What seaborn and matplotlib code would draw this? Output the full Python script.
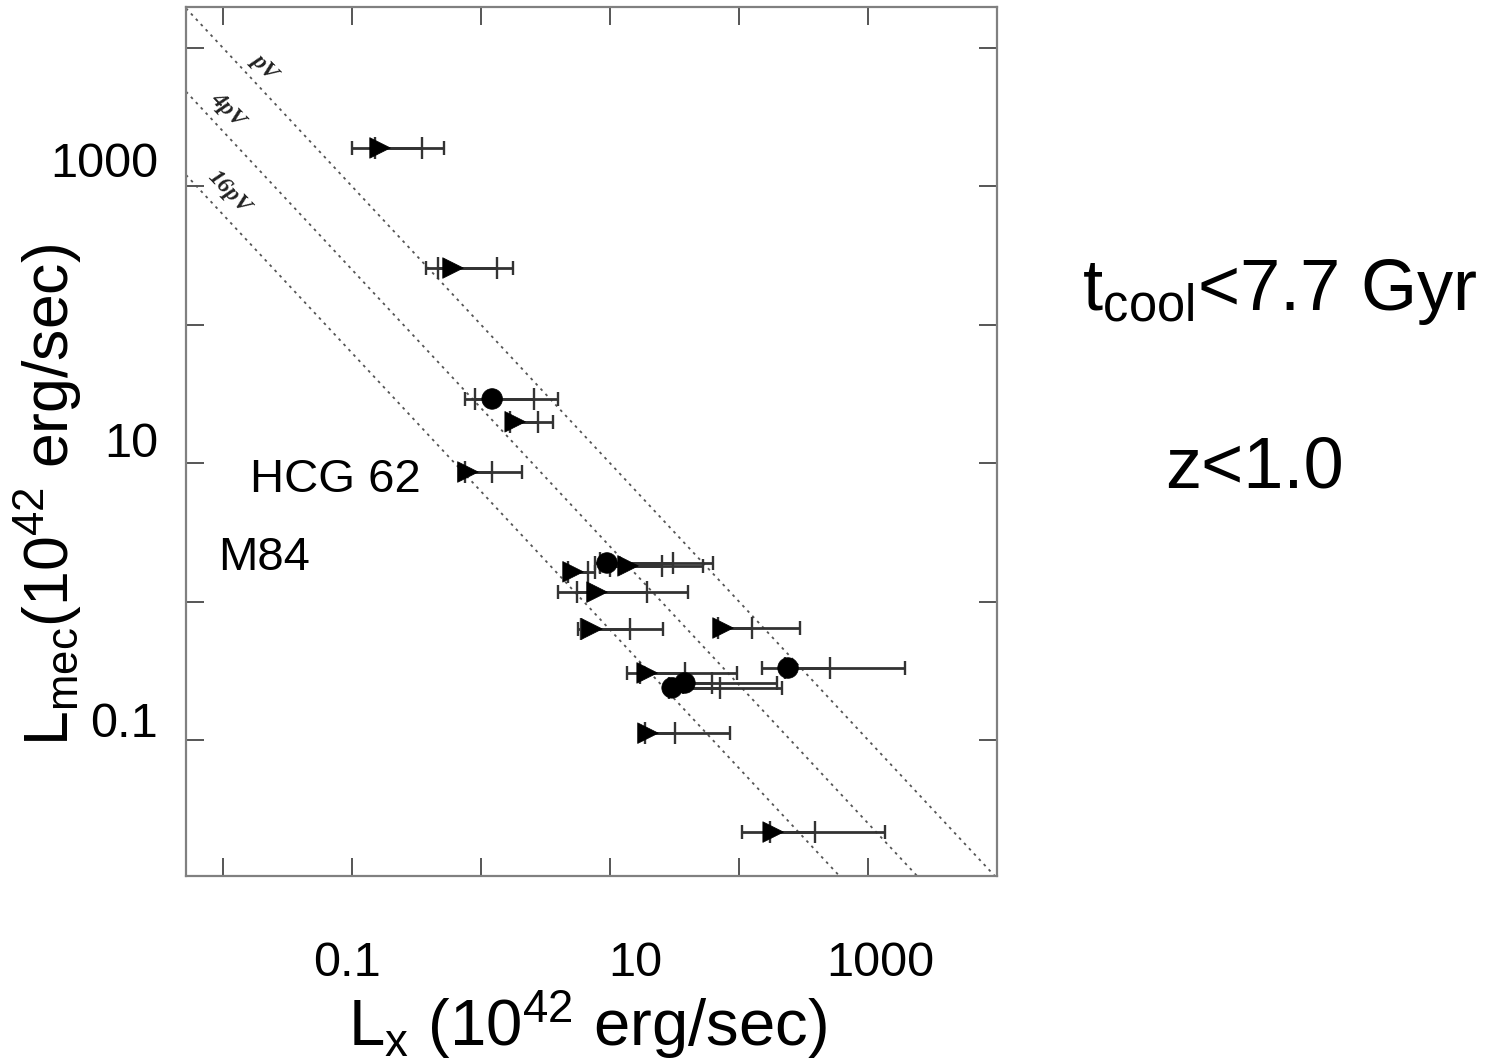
import numpy as np
import pandas as pd
import matplotlib
matplotlib.use("Agg")
import matplotlib.pyplot as plt
from matplotlib.ticker import NullLocator, NullFormatter
import seaborn as sns

# ---------------- data ----------------
kind = ['tri', 'tri', 'circ', 'tri', 'tri', 'tri', 'circ', 'tri', 'tri',
        'tri', 'tri', 'circ', 'tri', 'circ', 'circ', 'tri', 'tri']
lx = [0.165, 0.607, 1.22, 1.84, 0.792, 5.17, 9.48, 13.8, 7.93,
      7.25, 75.2, 240, 19.4, 30.3, 38.1, 19.7, 184]
lmec = [1895, 257, 29.1, 19.9, 8.63, 1.64, 1.90, 1.81, 1.17,
        0.634, 0.644, 0.331, 0.305, 0.238, 0.258, 0.112, 0.0216]
outer_lo = [0.100, 0.375, 0.751, 1.59, 0.713, 4.48, 7.65, 8.36, 3.95,
            5.65, 65.2, 151, 13.5, 27.7, 36.7, 17.7, 105]
outer_hi = [0.516, 1.77, 3.95, 3.61, 2.08, 7.65, 62.9, 52.6, 40.2,
            25.8, 297, 1936, 96.4, 215, 197, 85.1, 1355]
inner_lo = [0.15, 0.464, 0.897, 1.67, 0.75, 4.7, 8.36, 10.0, 5.55,
            6.0, 68.6, 228, 17.0, 28.6, 37.0, 18.6, 174]
inner_hi = [0.349, 1.33, 2.58, 2.77, 1.22, 6.7, 30.8, 25.3, 19.4,
            14.3, 126, 507, 38.1, 71.2, 61.8, 31.9, 388]

line_labels = ['pV', '4pV', '16pV']
line_norm = [100.0, 25.0, 6.25]          # Lmec * Lx = const for each line
line_label_x = [0.0212, 0.01093, 0.01114]
line_label_y = [7300, 3566, 912]

x_ticks = [1e-2, 1e-1, 1, 10, 100, 1000]
y_ticks = [0.1, 1, 10, 100, 1000, 1e4]
x_ticklabels = ['0.1', '10', '1000']
y_ticklabels = ['1000', '10', '0.1']

# ---------------- style ----------------
sns.set_theme(style='white')
plt.rcParams['font.family'] = ['Liberation Sans', 'DejaVu Sans']
plt.rcParams['text.color'] = 'black'
plt.rcParams['mathtext.fontset'] = 'custom'
plt.rcParams['mathtext.rm'] = 'Liberation Sans'
plt.rcParams['mathtext.it'] = 'Liberation Sans:italic'
plt.rcParams['mathtext.bf'] = 'Liberation Sans:bold'

W, H = 1505, 1062
fig = plt.figure(figsize=(W / 100, H / 100), dpi=100)
fig.patch.set_facecolor('white')
L, R, T, B = 186, 997, 7, 876
ax = fig.add_axes([L / W, 1 - B / H, (R - L) / W, (B - T) / H])
ax.set_xscale('log')
ax.set_yscale('log')
xlim = (10 ** -2.287, 1e4)
ylim = (10 ** -1.983, 10 ** 4.296)
ax.set_xlim(*xlim)
ax.set_ylim(*ylim)

# reference lines
xs = np.array(xlim)
for lab, k in zip(line_labels, line_norm):
    ax.plot(xs, k / xs, color='#555555', lw=1.3, ls=(0, (1.5, 2.5)), zorder=1)
for lab, tx, ty in zip(line_labels, line_label_x, line_label_y):
    ax.text(tx, ty, lab, rotation=-46, ha='center', va='center',
            rotation_mode='anchor', fontsize=17, fontweight='bold',
            fontstyle='italic', family=['Liberation Serif', 'DejaVu Serif'],
            color='#222222')

lx_a = np.array(lx)
lm_a = np.array(lmec)
ax.errorbar(lx_a, lm_a,
            xerr=[lx_a - np.array(outer_lo), np.array(outer_hi) - lx_a],
            fmt='none', ecolor='#333333', elinewidth=2.0, capsize=5,
            capthick=1.7, zorder=3)
ax.errorbar(lx_a, lm_a,
            xerr=[lx_a - np.array(inner_lo), np.array(inner_hi) - lx_a],
            fmt='none', ecolor='#333333', elinewidth=2.0, capsize=8,
            capthick=1.7, zorder=3)

df = pd.DataFrame({'Lx': lx, 'Lmec': lmec, 'kind': kind})
sns.scatterplot(data=df, x='Lx', y='Lmec', style='kind',
                markers={'tri': '>', 'circ': 'o'}, color='black', s=220,
                edgecolor='black', linewidth=0.5, legend=False, ax=ax,
                zorder=5)
ax.set_xlabel('')
ax.set_ylabel('')

# ticks / frame
ax.set_xticks(x_ticks)
ax.set_yticks(y_ticks)
ax.xaxis.set_minor_locator(NullLocator())
ax.yaxis.set_minor_locator(NullLocator())
ax.xaxis.set_major_formatter(NullFormatter())
ax.yaxis.set_major_formatter(NullFormatter())
ax.tick_params(which='both', direction='in', top=True, right=True,
               bottom=True, left=True, length=13, width=1.4,
               color='#555555', labelbottom=False, labelleft=False)
for sp in ax.spines.values():
    sp.set_color('#808080')
    sp.set_linewidth(1.6)

# overlay tick labels (placed as in the slide)
def fx(px):
    return px / W

def fy(py):
    return 1 - py / H

for lab, px in zip(x_ticklabels, [347, 635, 880]):
    fig.text(fx(px), fy(976), lab, ha='center', va='baseline', fontsize=35)
for lab, py in zip(y_ticklabels, [177, 457, 737]):
    fig.text(fx(158), fy(py), lab, ha='right', va='baseline', fontsize=35)

fig.text(fx(587), fy(1046), r'L$_\mathrm{x}$ (10$^{42}$ erg/sec)',
         ha='center', va='baseline', fontsize=47)
fig.text(fx(48), fy(495), r'L$_\mathrm{mec}$(10$^{42}$ erg/sec)',
         ha='center', va='center', rotation=90, fontsize=45)

fig.text(fx(250), fy(492), 'HCG 62', ha='left', va='baseline', fontsize=34)
fig.text(fx(218), fy(570), 'M84', ha='left', va='baseline', fontsize=34)

fig.text(fx(1082), fy(310), r't$_\mathrm{cool}$<7.7 Gyr', ha='left',
         va='baseline', fontsize=52)
fig.text(fx(1255), fy(488), 'z<1.0', ha='center', va='baseline', fontsize=52)

fig.savefig('out.png', dpi=100, facecolor='white')
